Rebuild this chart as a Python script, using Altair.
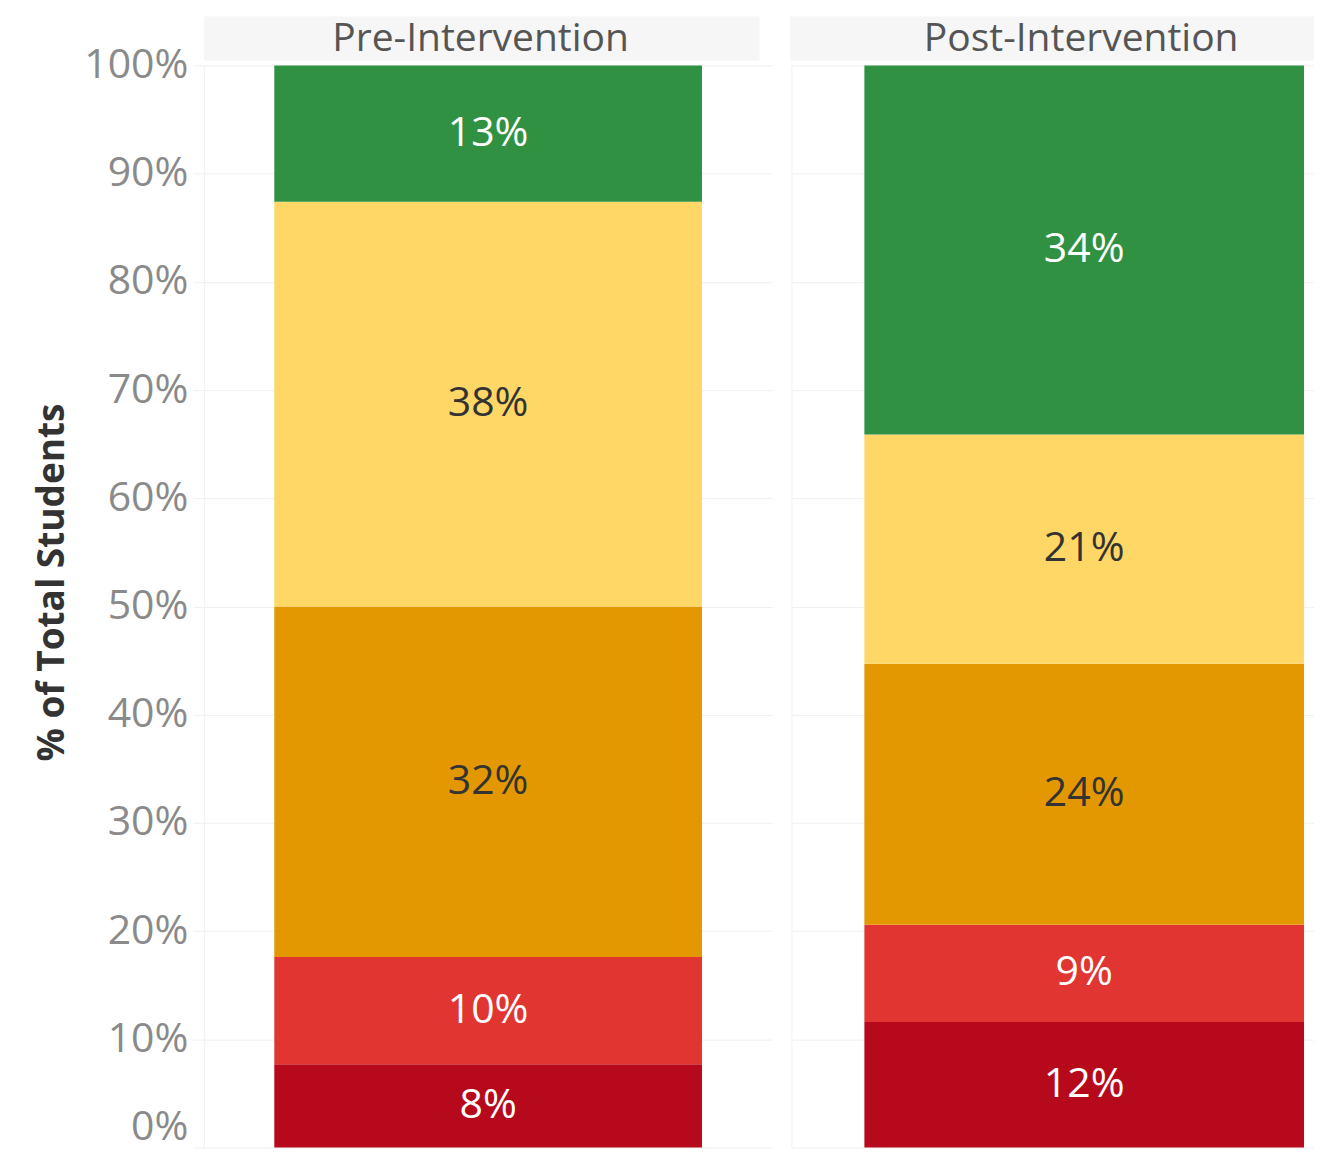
import altair as alt
import pandas as pd

# ---- data ----
phases = ["Pre-Intervention", "Post-Intervention"]
levels = ["Well Below", "Below", "Approaching", "Meeting", "Exceeding"]
level_colors = ["#b60a1c", "#e03531", "#e39802", "#fed766", "#309143"]
label_colors = ["#ffffff", "#ffffff", "#333333", "#333333", "#ffffff"]
pre_values = [7.7, 9.9, 32.4, 37.4, 12.6]
post_values = [11.6, 9.0, 24.1, 21.2, 34.1]
pre_labels = ["8%", "10%", "32%", "38%", "13%"]
post_labels = ["12%", "9%", "24%", "21%", "34%"]
y_ticks = [0, 0.1, 0.2, 0.3, 0.4, 0.5, 0.6, 0.7, 0.8, 0.9, 1.0]

rows = []
for phase, vals, labs in [(phases[0], pre_values, pre_labels), (phases[1], post_values, post_labels)]:
    for i, (lvl, v, lab) in enumerate(zip(levels, vals, labs)):
        rows.append({"phase": phase, "level": lvl, "order": i, "value": v / 100.0,
                     "label": lab, "tcolor": label_colors[i]})
df = pd.DataFrame(rows)

FONT = "Open Sans"
GRID = "#f0f0f0"
PLOT_H = 1083


def panel(phase, width, pad_outer, align, band_x0, band_x1, text_x, first):
    base = (
        alt.Chart(df)
        .transform_filter(alt.datum.phase == phase)
        .transform_stack(stack="value", as_=["y0", "y1"], groupby=["phase"],
                         sort=[alt.SortField("order", order="ascending")])
        .transform_calculate(mid="(datum.y0 + datum.y1) / 2")
    )
    if first:
        yaxis = alt.Axis(
            values=y_ticks, format=".0%", labelFont=FONT, labelFontSize=41,
            labelColor="#8a8a8a", tickSize=11, tickColor=GRID, domainColor=GRID,
            gridColor=GRID, labelPadding=5,
            labelOffset={"condition": {"test": "datum.value == 0", "value": -20}, "value": 0},
            title="% of Total Students", titleFont=FONT, titleFontSize=37,
            titleFontWeight="bold", titleColor="#333333", titleAngle=270,
            titleX=-151, titleY=517, titleAlign="center", titleBaseline="middle",
        )
    else:
        yaxis = alt.Axis(values=y_ticks, labels=False, ticks=False, title=None,
                         domainColor=GRID, gridColor=GRID)
    yscale = alt.Scale(domain=[0, 1], nice=False)
    xscale = alt.Scale(paddingInner=0, paddingOuter=pad_outer, align=align)
    bars = base.mark_bar().encode(
        x=alt.X("phase:N", axis=None, scale=xscale),
        y=alt.Y("y0:Q", scale=yscale, axis=yaxis),
        y2="y1:Q",
        color=alt.Color("level:N", scale=alt.Scale(domain=levels, range=level_colors), legend=None),
    )
    text = base.mark_text(font=FONT, fontSize=41, baseline="middle").encode(
        x=alt.X("phase:N", axis=None, scale=xscale),
        y=alt.Y("mid:Q", scale=yscale),
        text="label:N",
        color=alt.Color("tcolor:N", scale=None),
    )
    hdf = pd.DataFrame({"phase": [phase]})
    hrect = alt.Chart(hdf).mark_rect(color="#f6f6f6").encode(
        x=alt.value(band_x0), x2=alt.value(band_x1), y=alt.value(-49), y2=alt.value(-5)
    )
    htext = alt.Chart(hdf).mark_text(font=FONT, fontSize=39, color="#555555",
                                     baseline="alphabetic", align="center").encode(
        text="phase:N", x=alt.value(text_x), y=alt.value(-14)
    )
    return alt.layer(hrect, htext, bars, text).properties(width=width, height=PLOT_H)


p1 = panel(phases[0], 569, 0.1647, 0.5, 0, 556, 277, True)
p2 = panel(phases[1], 523, 0.0943, 0.88, -1, 523, 290, False)

chart = (
    alt.hconcat(p1, p2, spacing=18)
    .properties(padding={"left": 26, "top": 8, "right": 0, "bottom": 8})
    .configure_view(strokeWidth=0)
    .resolve_scale(color="independent")
)

chart.save("out.html", embed_options={"renderer": "svg", "actions": False})
